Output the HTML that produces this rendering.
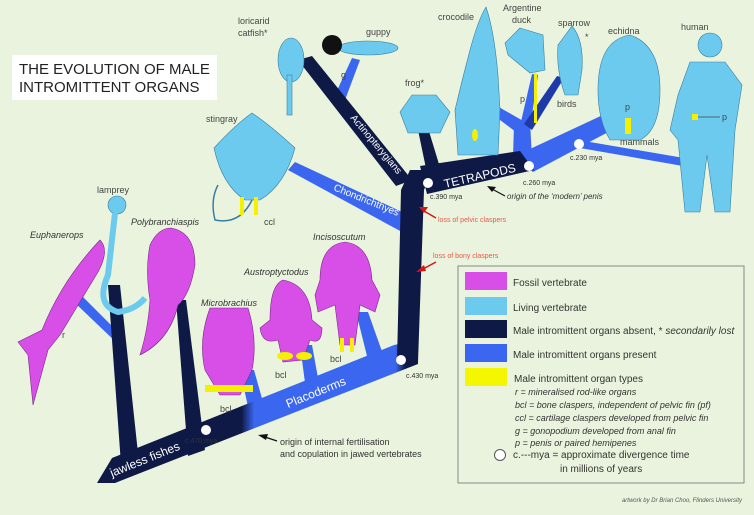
<!DOCTYPE html>
<html><head><meta charset="utf-8"><style>
html,body{margin:0;padding:0;background:#e9f3dd;}
svg{display:block;font-family:"Liberation Sans",sans-serif;}
</style></head><body>
<svg width="754" height="515" viewBox="0 0 754 515" xmlns="http://www.w3.org/2000/svg">
<rect width="754" height="515" fill="#e9f3dd"/>
<defs>
<linearGradient id="tr" x1="0" x2="1" y1="0" y2="0">
<stop offset="0" stop-color="#0e1a45"/><stop offset="0.45" stop-color="#0e1a45"/><stop offset="0.49" stop-color="#3a66f0"/><stop offset="0.93" stop-color="#3a66f0"/><stop offset="0.96" stop-color="#0e1a45"/>
</linearGradient>
</defs>
<!-- title -->
<rect x="12" y="55" width="205" height="45" fill="#fff"/>
<text x="19" y="74" font-size="15" fill="#222">THE EVOLUTION OF MALE</text>
<text x="19" y="92" font-size="15" fill="#222">INTROMITTENT ORGANS</text>

<!-- blue side branches -->
<polygon points="288,170 295,162 402,212 402,232" fill="#3a66f0"/>
<polygon points="335,95 352,58 360,60 345,100" fill="#3a66f0"/>
<polygon points="74,302 80,294 122,336 118,344" fill="#3a66f0"/>
<!-- tetrapod blue parts -->
<polygon points="515,156 605,114 612,130 533,172" fill="#3a66f0"/>
<polygon points="513,158 532,158 530,122 514,124" fill="#3a66f0"/>
<polygon points="516,132 525,122 497,106 492,114" fill="#3a66f0"/>
<polygon points="520,126 530,128 538,75 532,74" fill="#3a66f0"/>
<polygon points="524,124 532,130 564,78 557,76" fill="#1e3aa8"/>
<polygon points="578,140 580,148 683,166 684,158" fill="#3a66f0"/>
<!-- placoderm blue verticals -->
<polygon points="240,370 254,370 268,420 252,425" fill="#3a66f0"/>
<polygon points="300,345 312,345 322,400 308,405" fill="#3a66f0"/>
<polygon points="356,312 368,312 385,360 370,368" fill="#3a66f0"/>

<!-- main diagonal trunk -->
<polygon points="97,483 112,458 394,345 418,340 418,364 115,483" fill="url(#tr)"/>
<!-- dark verticals -->
<polygon points="108,285 120,285 140,472 122,478" fill="#0e1a45"/>
<polygon points="176,300 186,300 205,450 188,456" fill="#0e1a45"/>
<!-- vertical trunk -->
<polygon points="397,362 401,190 410,170 432,170 424,190 418,362" fill="#0e1a45"/>
<polygon points="298,60 312,56 412,180 396,186" fill="#0e1a45"/>
<!-- tetrapods -->
<polygon points="420,166 520,151 534,170 427,194" fill="#0e1a45"/>
<polygon points="428,178 442,174 428,128 418,130" fill="#0e1a45"/>

<!-- nodes -->
<circle cx="428" cy="183" r="5" fill="#fff"/>
<circle cx="529" cy="166" r="5" fill="#fff"/>
<circle cx="579" cy="144" r="5" fill="#fff"/>
<circle cx="401" cy="360" r="5" fill="#fff"/>
<circle cx="206" cy="430" r="5" fill="#fff"/>

<!-- branch labels -->
<text transform="translate(112,477) rotate(-22)" font-size="12" fill="#fff">jawless fishes</text>
<text transform="translate(288,408) rotate(-22)" font-size="12" fill="#fff">Placoderms</text>
<text transform="translate(333,190) rotate(22)" font-size="10" fill="#fff">Chondrichthyes</text>
<text transform="translate(350,118) rotate(50)" font-size="10" fill="#fff">Actinopterygians</text>
<text transform="translate(445,188) rotate(-13)" font-size="12" fill="#fff">TETRAPODS</text>

<text x="430" y="199" font-size="7" fill="#333">c.390 mya</text>
<text x="523" y="185" font-size="7" fill="#333">c.260 mya</text>
<text x="570" y="160" font-size="7" fill="#333">c.230 mya</text>
<text x="406" y="378" font-size="7" fill="#333">c.430 mya</text>
<text x="185" y="443" font-size="7" fill="#333">c.470 mya</text>
<text x="507" y="199" font-size="8" fill="#333" font-style="italic">origin of the ‘modern’ penis</text>
<text x="280" y="445" font-size="9" fill="#333">origin of internal fertilisation</text>
<text x="280" y="457" font-size="9" fill="#333">and copulation in jawed vertebrates</text>
<text x="438" y="222" font-size="7" fill="#e65a4a">loss of pelvic claspers</text>
<text x="433" y="258" font-size="7" fill="#e65a4a">loss of bony claspers</text>
<line x1="436" y1="218" x2="424" y2="211" stroke="#d01818" stroke-width="1.5"/>
<polygon points="419,207 428,207 424,213" fill="#d01818"/>
<line x1="436" y1="262" x2="423" y2="269" stroke="#d01818" stroke-width="1.5"/>
<polygon points="416,272 424,265 426,271" fill="#d01818"/>
<line x1="505" y1="196" x2="492" y2="189" stroke="#111" stroke-width="1.2"/>
<polygon points="487,186 496,187 492,192" fill="#111"/>
<line x1="277" y1="441" x2="265" y2="437" stroke="#111" stroke-width="1.2"/>
<polygon points="258,435 268,434 266,440" fill="#111"/>

<!-- animals: living (light blue) -->
<g fill="#6ccaef" stroke="#3a7fa0" stroke-width="0.6">
<ellipse cx="291" cy="60" rx="13" ry="22"/><rect x="287" y="75" width="5" height="40"/>
<ellipse cx="368" cy="48" rx="30" ry="7"/>
<path d="M252 113 Q270 125 295 148 Q285 185 260 200 L245 200 Q222 185 214 148 Q235 125 252 113Z"/>
<path d="M412 95 L436 95 L450 112 L440 133 L408 133 L400 112Z"/>
<path d="M486 7 Q494 30 498 75 L500 110 L498 155 L458 155 L455 110 Q462 80 470 50 Q478 20 486 7Z"/>
<path d="M520 28 L543 35 L545 70 L530 73 L508 55 L505 43Z"/>
<path d="M572 26 Q584 40 582 70 L578 95 L565 95 Q556 70 558 45Z"/>
<path d="M630 35 Q660 45 660 90 Q660 130 640 140 L610 140 Q598 120 598 90 Q598 40 630 35Z"/>
<circle cx="710" cy="45" r="12"/>
<path d="M690 62 L725 62 L742 85 L735 130 L730 212 L715 212 L707 155 L700 212 L685 212 L678 140 L670 130 L678 95Z"/>
<circle cx="117" cy="205" r="9"/>
</g>
<path d="M252 200 Q240 225 215 220 Q210 200 218 185" fill="none" stroke="#3a7fa0" stroke-width="1.5"/>
<path d="M115 213 L108 275 Q95 305 118 312 Q135 310 145 298" fill="none" stroke="#6ccaef" stroke-width="6"/>
<ellipse cx="332" cy="45" rx="10" ry="10" fill="#111"/>
<!-- fossil magenta -->
<g fill="#d84fe8" stroke="#7a2a88" stroke-width="0.6">
<path d="M100 240 Q110 250 98 272 L60 335 L48 350 L33 405 L28 355 L18 342 L42 330 Q62 280 100 240Z"/>
<path d="M171 228 Q195 232 195 265 Q190 295 178 305 Q170 340 140 355 Q148 330 150 300 Q145 270 150 245 Q158 228 171 228Z"/>
<path d="M210 308 L248 308 Q258 340 252 370 L240 395 L220 395 L205 370 Q198 340 210 308Z"/>
<path d="M283 280 Q310 285 312 320 L322 328 Q322 345 310 340 L303 360 L283 362 L278 340 Q262 345 260 328 L270 320 Q270 285 283 280Z"/>
<path d="M345 242 Q370 245 372 280 L380 295 L375 312 L360 305 L355 345 L340 345 L335 305 L318 312 L315 295 L320 280 Q320 245 345 242Z"/>
</g>
<g fill="#f4f000">
<rect x="205" y="385" width="48" height="7"/><ellipse cx="285" cy="356" rx="8" ry="4"/><ellipse cx="304" cy="356" rx="8" ry="4"/>
<rect x="340" y="338" width="4" height="14"/><rect x="350" y="338" width="4" height="14"/><rect x="240" y="197" width="4" height="18"/><rect x="254" y="197" width="4" height="18"/>
<rect x="625" y="118" width="6" height="16"/><rect x="692" y="114" width="6" height="6"/>
<rect x="534" y="73" width="3" height="50"/><ellipse cx="475" cy="135" rx="3" ry="6"/>
</g>

<!-- animal labels -->
<g font-size="9" fill="#444">
<text x="238" y="24">loricarid</text><text x="238" y="36">catfish*</text>
<text x="366" y="35">guppy</text>
<text x="438" y="20">crocodile</text>
<text x="503" y="11">Argentine</text><text x="512" y="23">duck</text>
<text x="558" y="26">sparrow</text><text x="585" y="40">*</text>
<text x="608" y="34">echidna</text>
<text x="681" y="30">human</text>
<text x="405" y="86">frog*</text>
<text x="206" y="122">stingray</text>
<text x="97" y="193">lamprey</text>
<text x="264" y="225">ccl</text>
<text x="557" y="107">birds</text>
<text x="620" y="145">mammals</text>
<text x="625" y="110">p</text><text x="722" y="120">p</text><text x="520" y="102">p</text>
<text x="341" y="78">g</text>
<text x="62" y="338">r</text>
<text x="220" y="412">bcl</text><text x="275" y="378">bcl</text><text x="330" y="362">bcl</text>
</g>
<line x1="698" y1="117" x2="720" y2="117" stroke="#444" stroke-width="0.7"/>
<g font-size="9" fill="#333" font-style="italic">
<text x="30" y="238">Euphanerops</text>
<text x="131" y="225">Polybranchiaspis</text>
<text x="313" y="240">Incisoscutum</text>
<text x="244" y="275">Austroptyctodus</text>
<text x="201" y="306">Microbrachius</text>
</g>

<!-- legend -->
<rect x="458" y="266" width="286" height="217" fill="none" stroke="#888" stroke-width="1"/>
<rect x="465" y="272" width="42" height="18" fill="#d84fe8"/>
<rect x="465" y="297" width="42" height="18" fill="#6ccaef"/>
<rect x="465" y="320" width="42" height="18" fill="#0e1a45"/>
<rect x="465" y="344" width="42" height="18" fill="#3a66f0"/>
<rect x="465" y="368" width="42" height="18" fill="#f4f700"/>
<g font-size="10" fill="#333">
<text x="513" y="286">Fossil vertebrate</text>
<text x="513" y="311">Living vertebrate</text>
<text x="513" y="334">Male intromittent organs absent, * <tspan font-style="italic">secondarily lost</tspan></text>
<text x="513" y="358">Male intromittent organs present</text>
<text x="514" y="382">Male intromittent organ types</text>
<text x="513" y="458">c.---mya = approximate divergence time</text>
<text x="560" y="472">in millions of years</text>
</g>
<g font-size="9" fill="#333" font-style="italic">
<text x="515" y="395">r = mineralised rod-like organs</text>
<text x="515" y="408">bcl = bone claspers, independent of pelvic fin (pf)</text>
<text x="515" y="421">ccl = cartilage claspers developed from pelvic fin</text>
<text x="515" y="434">g = gonopodium developed from anal fin</text>
<text x="515" y="446">p = penis or paired hemipenes</text>
</g>
<circle cx="500" cy="455" r="5.5" fill="#fff" stroke="#555"/>
<text x="742" y="502" font-size="6" fill="#555" font-style="italic" text-anchor="end">artwork by Dr Brian Choo, Flinders University</text>
</svg>
</body></html>
